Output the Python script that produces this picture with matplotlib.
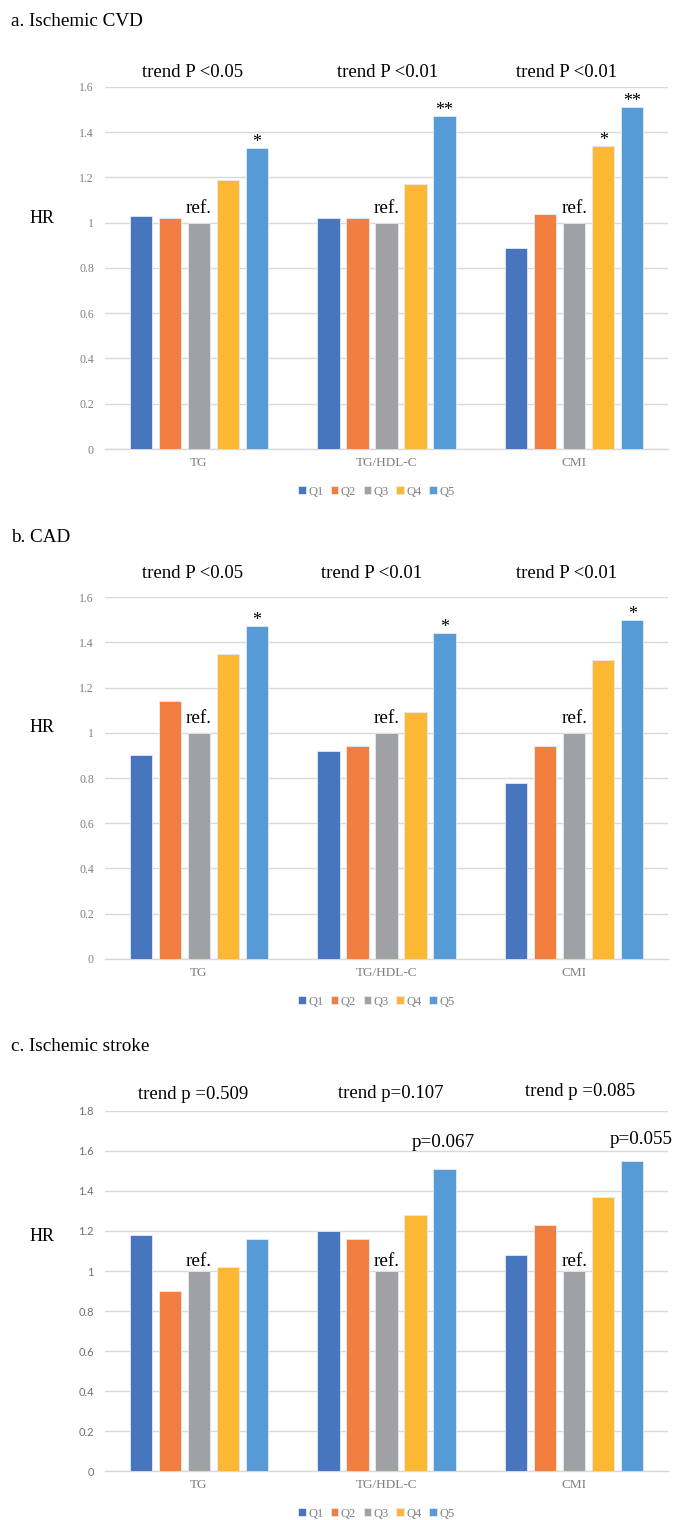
import numpy as np
import matplotlib.pyplot as plt

plt.rcParams['font.family'] = ['Liberation Serif', 'DejaVu Serif']

categories = ['TG', 'TG/HDL-C', 'CMI']
quintiles = ['Q1', 'Q2', 'Q3', 'Q4', 'Q5']
colors = ['#4876BE', '#F27F40', '#A0A1A5', '#FDB833', '#569BD6']

# HR per quintile (rows) for each index (columns)
cvd_hr = [[1.03, 1.02, 0.89],
          [1.02, 1.02, 1.04],
          [1.00, 1.00, 1.00],
          [1.19, 1.17, 1.34],
          [1.33, 1.47, 1.51]]
cad_hr = [[0.90, 0.92, 0.78],
          [1.14, 0.94, 0.94],
          [1.00, 1.00, 1.00],
          [1.35, 1.09, 1.32],
          [1.47, 1.44, 1.50]]
stroke_hr = [[1.18, 1.20, 1.08],
             [0.90, 1.16, 1.23],
             [1.00, 1.00, 1.00],
             [1.02, 1.28, 1.37],
             [1.16, 1.51, 1.55]]

cvd_trend = ['trend P <0.05', 'trend P <0.01', 'trend P <0.01']
cad_trend = ['trend P <0.05', 'trend P <0.01', 'trend P <0.01']
stroke_trend = ['trend p =0.509', 'trend p=0.107', 'trend p =0.085']

# stars above bars: (quintile index, category index, text)
cvd_stars = [(4, 0, '*'), (4, 1, '**'), (3, 2, '*'), (4, 2, '**')]
cad_stars = [(4, 0, '*'), (4, 1, '*'), (4, 2, '*')]
# p values above bars: (quintile, category, text, x offset, y)
stroke_pvals = [(4, 1, 'p=0.067', -0.008, 1.64), (4, 2, 'p=0.055', 0.047, 1.655)]

fig = plt.figure(figsize=(6.73, 15.2), dpi=100)

panels = [
    dict(title='a. Ischemic CVD', hr=cvd_hr, trend=cvd_trend, stars=cvd_stars, pvals=[],
         ymax=1.6, box=(0.7046, 0.9428), ty=0.9857, toff=[-0.031, 0.003, -0.038],
         trend_y=[1.665] * 3, hr_y=1.02, ref_off=0.045, sans=False),
    dict(title='b. CAD', hr=cad_hr, trend=cad_trend, stars=cad_stars, pvals=[],
         ymax=1.6, box=(0.3691, 0.6072), ty=0.6467, toff=[-0.036, -0.077, -0.038],
         trend_y=[1.705] * 3, hr_y=1.025, ref_off=0.045, sans=False),
    dict(title='c. Ischemic stroke', hr=stroke_hr, trend=stroke_trend, stars=[], pvals=stroke_pvals,
         ymax=1.8, box=(0.0322, 0.2691), ty=0.3118, toff=[-0.028, 0.024, 0.031],
         trend_y=[1.88, 1.885, 1.897], hr_y=1.17, ref_off=0.025, sans=True),
]

x = np.arange(len(categories))
stride = 0.1545
width = 0.12

for p in panels:
    b, t = p['box']
    hr = p['hr']
    ax = fig.add_axes([0.156, b, 0.8366, t - b])
    for i, q in enumerate(quintiles):
        ax.bar(x + (i - 2) * stride, hr[i], width, color=colors[i], label=q,
               edgecolor='#E3EBF5', linewidth=0.6, zorder=3)
    ax.set_xlim(-0.5, 2.5)
    ax.set_ylim(0, p['ymax'])
    yt = np.arange(0, p['ymax'] + 0.01, 0.2)
    ax.set_yticks(yt)
    ax.set_yticklabels(['%g' % round(v, 1) for v in yt])
    ax.set_xticks(x)
    ax.set_xticklabels(categories, fontsize=9.5)
    ax.tick_params(length=0, colors='#808080')
    ax.tick_params(axis='y', pad=8, labelsize=8.5)
    ax.tick_params(axis='x', pad=6)
    if p['sans']:
        for lab in ax.get_yticklabels():
            lab.set_family(['Lato', 'DejaVu Sans'])
            lab.set_fontsize(8)
            lab.set_color('#707070')
    ax.grid(axis='y', color='#D9D9D9', linewidth=1, zorder=0)
    for s in ['top', 'right', 'left']:
        ax.spines[s].set_visible(False)
    ax.spines['bottom'].set_color('#D9D9D9')
    ax.spines['bottom'].set_linewidth(1)

    ax.text(-0.112, p['hr_y'], 'HR', fontsize=13, ha='center', va='center',
            transform=ax.get_yaxis_transform(), clip_on=False)
    for j in range(3):
        ax.text(x[j], hr[2][j] + p['ref_off'], 'ref.', fontsize=13.8, ha='center', va='baseline')
        ax.text(x[j] + p['toff'][j], p['trend_y'][j], p['trend'][j], fontsize=13.5,
                ha='center', va='center', clip_on=False)
    for qi, cj, s in p['stars']:
        ax.text(x[cj] + (qi - 2) * stride, hr[qi][cj] + 0.005, s, fontsize=13,
                ha='center', va='baseline')
    for qi, cj, s, dx, yy in p['pvals']:
        ax.text(x[cj] + (qi - 2) * stride + dx, yy, s, fontsize=13.7,
                ha='center', va='center', clip_on=False)

    ax.legend(loc='center', bbox_to_anchor=(0.482, -0.118), ncol=5, frameon=False,
              fontsize=9, handlelength=0.6, handleheight=0.6, handletextpad=0.2,
              columnspacing=0.6, labelcolor='#808080')

    fig.text(0.016, p['ty'], p['title'], fontsize=13.75, ha='left', va='center')

plt.savefig('out.png', dpi=100)
